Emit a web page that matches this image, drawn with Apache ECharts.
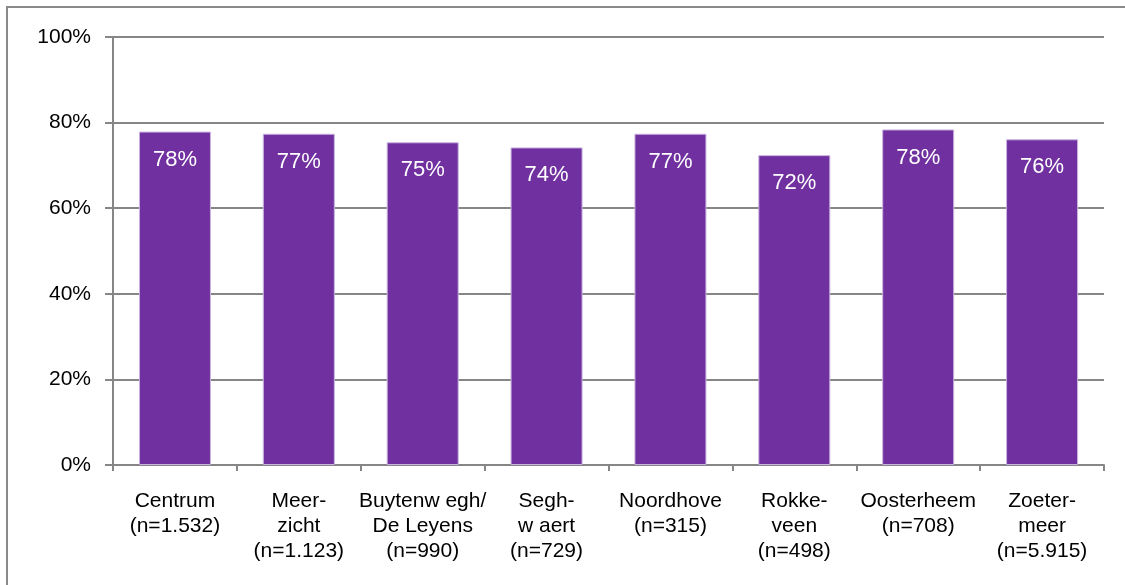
<!DOCTYPE html>
<html>
<head>
<meta charset="utf-8">
<script src="https://cdn.jsdelivr.net/npm/echarts@6/dist/echarts.min.js"></script>
<style>
html,body{margin:0;padding:0;background:#fff;}
#chart{width:1125px;height:585px;}
</style>
</head>
<body>
<div id="chart"></div>
<script>
const categories = [
  "Centrum\n(n=1.532)",
  "Meer-\nzicht\n(n=1.123)",
  "Buytenw egh/\nDe Leyens\n(n=990)",
  "Segh-\nw aert\n(n=729)",
  "Noordhove\n(n=315)",
  "Rokke-\nveen\n(n=498)",
  "Oosterheem\n(n=708)",
  "Zoeter-\nmeer\n(n=5.915)"
];
const values = [0.779, 0.774, 0.754, 0.742, 0.774, 0.724, 0.784, 0.761];
const yTicks = [0, 0.2, 0.4, 0.6, 0.8, 1.0];

const font = '"Liberation Sans", Arial, sans-serif';
const chart = echarts.init(document.getElementById('chart'), null, {renderer: 'canvas'});
chart.setOption({
  animation: false,
  backgroundColor: '#ffffff',
  graphic: [{
    type: 'rect',
    shape: {x: 7, y: 7, width: 1200, height: 700},
    style: {fill: 'none', stroke: '#8a8a8a', lineWidth: 2},
    silent: true
  }],
  grid: {left: 113, right: 21, top: 37, bottom: 120, containLabel: false},
  xAxis: {
    type: 'category',
    data: categories,
    axisLine: {show: true, lineStyle: {color: '#868686', width: 2}},
    axisTick: {show: true, alignWithLabel: false, length: 6, lineStyle: {color: '#868686', width: 2}},
    axisLabel: {
      interval: 0,
      color: '#000',
      fontFamily: font,
      fontSize: 21,
      lineHeight: 25,
      margin: 24
    }
  },
  yAxis: {
    type: 'value',
    min: 0,
    max: 1,
    interval: 0.2,
    axisLine: {show: true, lineStyle: {color: '#868686', width: 2}},
    axisTick: {show: true, length: 8, lineStyle: {color: '#868686', width: 2}},
    splitLine: {show: true, lineStyle: {color: '#868686', width: 2}},
    axisLabel: {
      color: '#000',
      fontFamily: font,
      fontSize: 21,
      margin: 22,
      formatter: function (v) {
        const t = yTicks.find(x => Math.abs(x - v) < 1e-9);
        return Math.round((t !== undefined ? t : v) * 100) + '%';
      }
    }
  },
  series: [{
    type: 'bar',
    data: values,
    barWidth: 72,
    itemStyle: {color: '#7030A0', borderColor: '#c9b3df', borderWidth: 1},
    label: {
      show: true,
      position: 'insideTop',
      distance: 17,
      color: '#ffffff',
      fontFamily: font,
      fontSize: 22,
      formatter: function (p) { return Math.round(p.value * 100) + '%'; }
    }
  }]
});
</script>
</body>
</html>
